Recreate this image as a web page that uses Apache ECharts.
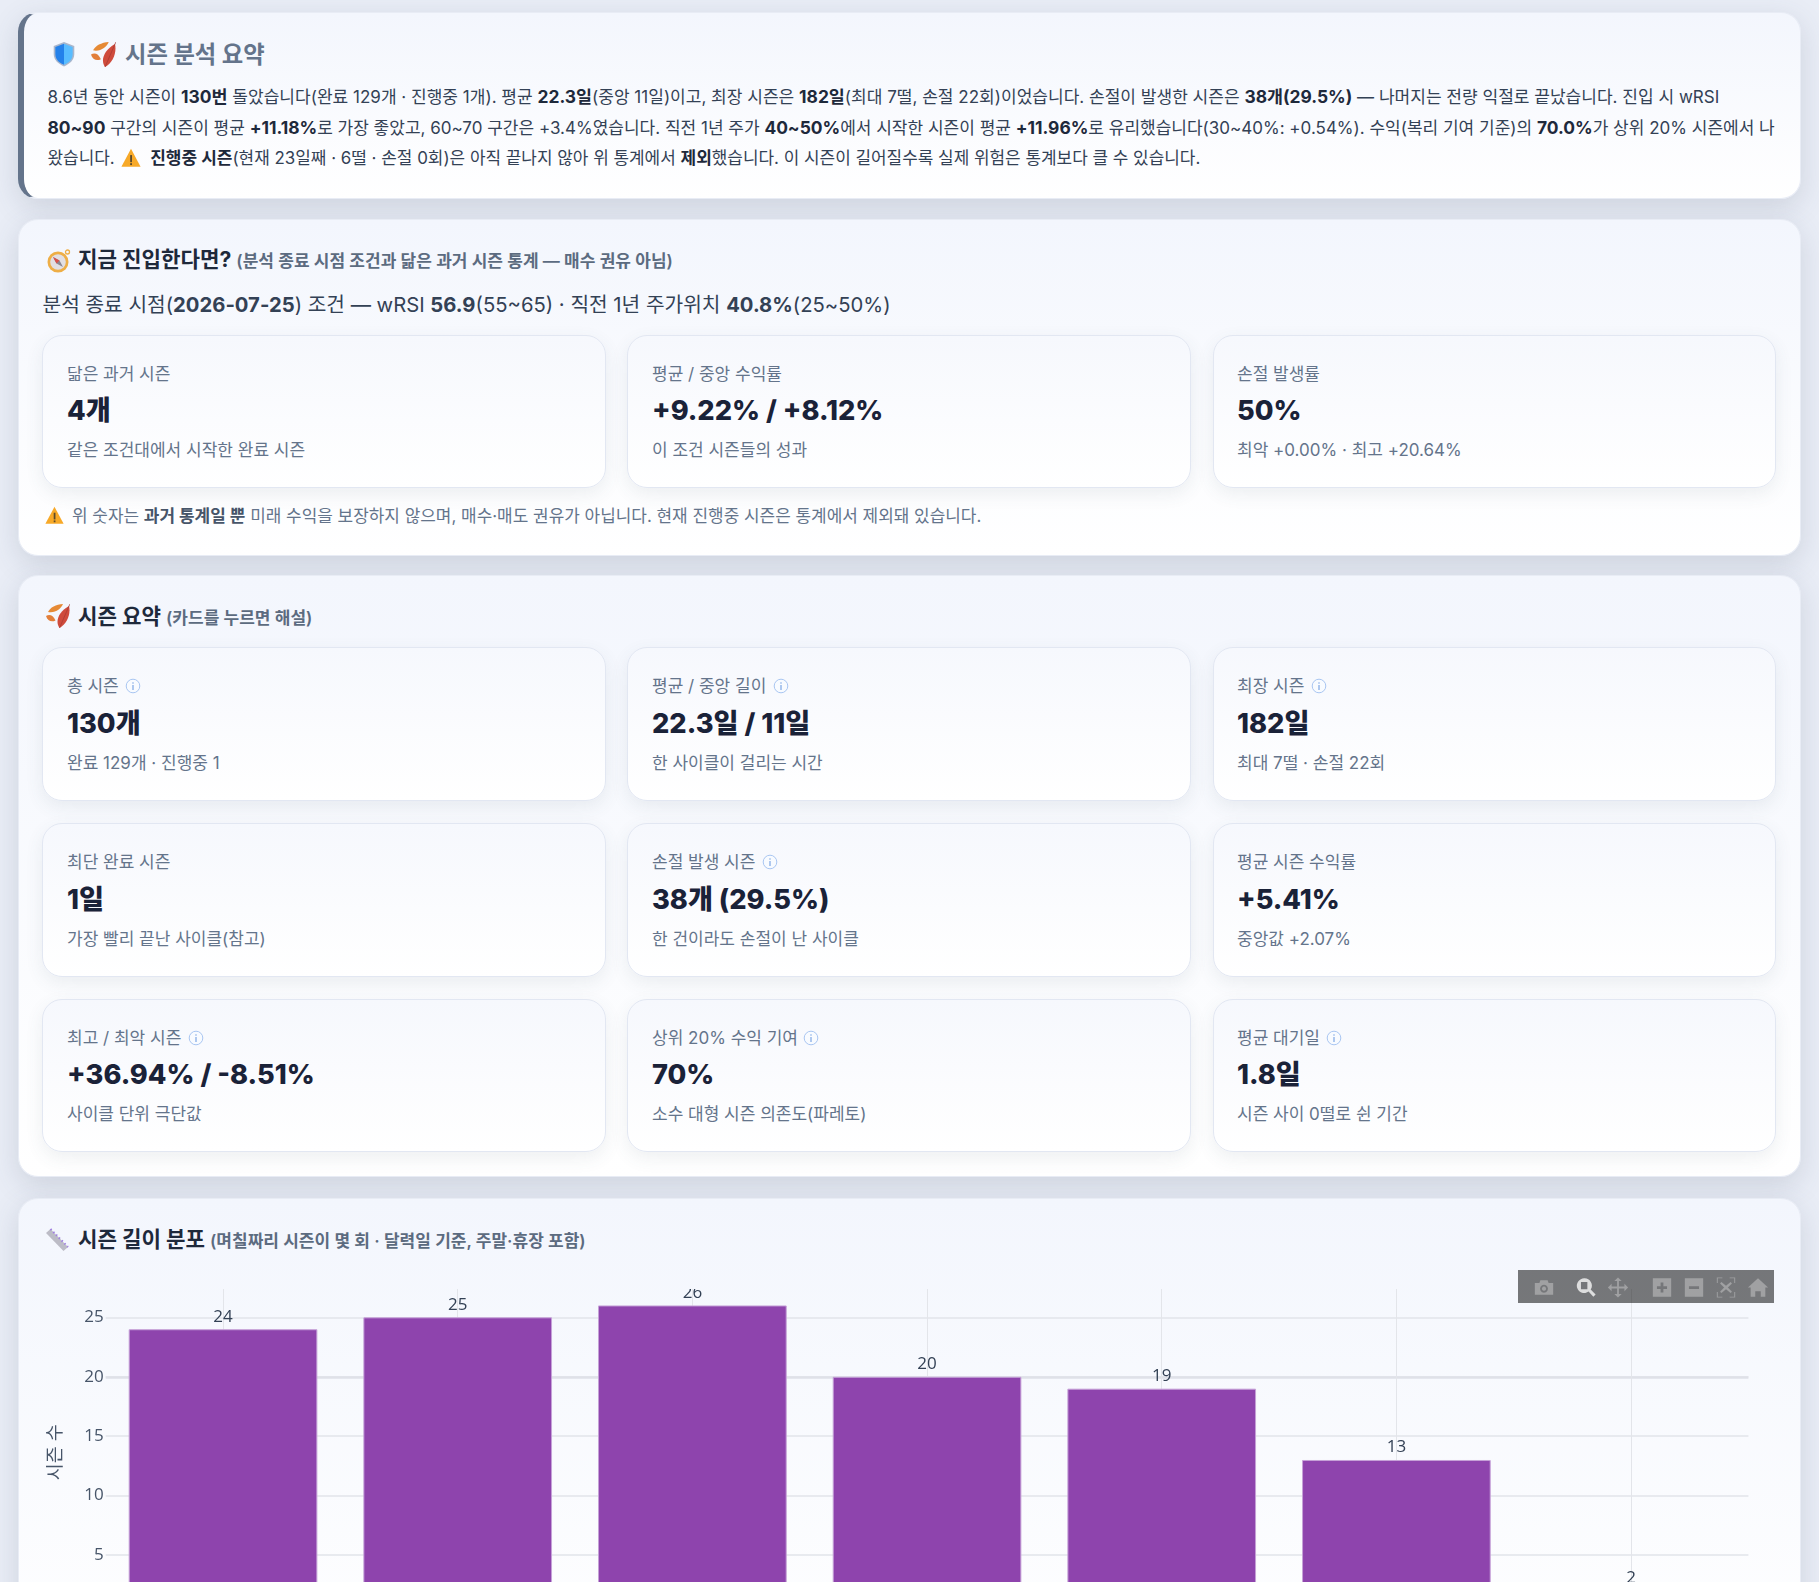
<!DOCTYPE html>
<html lang="ko"><head><meta charset="utf-8">
<script src="https://cdn.jsdelivr.net/npm/echarts@6/dist/echarts.min.js"></script>
<style>
html,body{margin:0;padding:0;width:1819px;height:1582px;overflow:hidden;background:#e9edf6;font-family:Inter,"Noto Sans CJK KR",sans-serif;color:#1e293b}
.panel{position:absolute;left:17.5px;width:1783px;border-radius:20px;background:linear-gradient(180deg,#f3f6fd 0%,#ffffff 100%);box-shadow:0 8px 28px rgba(71,85,105,.17);box-sizing:border-box;border:1px solid #e8ecf5}
.t{position:absolute;white-space:nowrap;transform:translateY(-50%);line-height:1}
.card{position:absolute;width:563.5px;border-radius:20px;border:1px solid #e2e7f2;background:linear-gradient(180deg,#f6f8fd,#ffffff);box-shadow:0 6px 18px rgba(71,85,105,.09);box-sizing:border-box}
.lab{font-size:17px;color:#64748b}
.val{font-size:27.2px;font-weight:800;color:#1a2238}
.sub{font-size:17px;color:#64748b}
.para{font-size:16.95px;color:#334155}
.para b{color:#1e293b;font-weight:700;font-size:17.4px}
.h{font-size:21.2px;font-weight:700;color:#1e293b}
.h small{font-size:17px;font-weight:600;color:#5c6b80}
svg{position:absolute}
#chart{position:absolute;left:18px;top:1289px;width:1782px;height:293px}
#bar{position:absolute;left:1518px;top:1270px;width:256px;height:33px;background:rgba(0,0,0,.52)}
</style></head><body>
<div id="root"></div>
<div id="chart"></div>
<div id="bar"></div>
<script>
const lengthBuckets = ['1일','2~3일','4~7일','8~14일','15~30일','31~60일','61일+'];
const seasonCounts = [24, 25, 26, 20, 19, 13, 2];
const yTicks = [5, 10, 15, 20, 25];
const yMax = 27.3;

const ICON = {
 shield:(x,y,s)=>`<svg style="left:${x}px;top:${y}px" width="${s}" height="${s}" viewBox="0 0 24 24"><path d="M12 1 21.500 4.500V12c0 6-4.500 9-9.500 11.500C7 21 2.500 18 2.500 12V4.500Z" fill="#a9b6cc"/><path d="M12 2.500 20 5.500V12c0 5-3.500 8-8 10Z" fill="#58bcff"/><path d="M12 2.500 4 5.500V12c0 5 3.500 8 8 10Z" fill="#2481ea"/></svg>`,
 leaf:(x,y,s)=>`<svg style="left:${x}px;top:${y}px" width="${s}" height="${s}" viewBox="0 0 24 24"><path d="M2 8C4 3.500 10 .5 17 0 15 5 9 9.500 2 8Z" fill="#e68a35"/><path d="M0 12c3-2 7-1.500 9.500 4.500-4 2-8 .5-9.500-4.500Z" fill="#e27f3a"/><path d="M23 2C25 10 21 20 13.500 24 9 18 12 8 23 2Z" fill="#cf4b3c"/><path d="M13.500 24 23 2 24 0" stroke="#a63a33" stroke-width=".7" fill="none"/></svg>`,
 compass:(x,y,s)=>`<svg style="left:${x}px;top:${y}px" width="${s}" height="${s}" viewBox="0 0 24 24"><circle cx="11" cy="13" r="10.500" fill="#eeae46"/><circle cx="11" cy="13" r="7.800" fill="#e2dfe2"/><path d="M6 8 12.500 11.500 16 18 9.500 14.500Z" fill="#8b8791"/><path d="M6 8 12.500 11.500 9.500 14.500Z" fill="#d8504a"/><circle cx="20.500" cy="3" r="2" fill="none" stroke="#eeae46" stroke-width="1.300"/></svg>`,
 warn:(x,y,s)=>`<svg style="left:${x}px;top:${y}px" width="${s}" height="${s}" viewBox="0 0 24 24"><path d="M12 1 23.500 22.500H.5Z" fill="#f7a928"/><rect x="11" y="8.500" width="2.200" height="8.500" fill="#5b4a2c"/><rect x="11" y="18.200" width="2.200" height="2.300" fill="#5b4a2c"/></svg>`,
 ruler:(x,y,s)=>`<svg style="left:${x}px;top:${y}px" width="${s}" height="${s}" viewBox="0 0 24 24"><path d="M1 5 5.500 1 23 19 18.500 23Z" fill="#bcbcc6"/><path d="M5.500 1 23 19" stroke="#a07fe0" stroke-width="2" stroke-dasharray="1.500 2.500" fill="none"/></svg>`,
 info:(x,y)=>`<svg style="left:${x}px;top:${y}px" width="16" height="16" viewBox="0 0 16 16"><circle cx="8" cy="8" r="6.800" fill="#f8fbff" stroke="#a9c6f2" stroke-width="1"/><rect x="7.400" y="7" width="1.200" height="5" fill="#7ea6e4"/><rect x="7.400" y="4.300" width="1.200" height="1.400" fill="#7ea6e4"/></svg>`
};
const t=(x,y,cls,html,style='')=>`<div class="t ${cls}" style="left:${x}px;top:${y}px;${style}">${html}</div>`;
const panel=(y,h,extra='')=>`<div class="panel" style="top:${y}px;height:${h}px;${extra}"></div>`;
const xs=[42,627,1212.500];
function card(col,top,h,label,val,sub,infoX,d=0){
 const x=xs[col],tx=Math.round(x+24.500);
 return `<div class="card" style="left:${x}px;top:${top}px;height:${h}px"></div>`+
  t(tx,top+39,'lab',label)+t(tx,top+75.500+d,'val',val)+t(tx,top+114.500+d,'sub',sub)+
  (infoX?ICON.info(x+infoX,top+31):'');
}
let h='';
h+=panel(12,187,'border-left:6px solid #64748b');
h+=ICON.shield(51,41,26)+ICON.leaf(91,42,25);
h+=t(125,54.500,'h','시즌 분석 요약','color:#64748b;font-size:23.3px');
h+=t(47.500,96.500,'para','8.6년 동안 시즌이 <b>130번</b> 돌았습니다(완료 129개 · 진행중 1개). 평균 <b>22.3일</b>(중앙 11일)이고, 최장 시즌은 <b>182일</b>(최대 7떨, 손절 22회)이었습니다. 손절이 발생한 시즌은 <b>38개(29.5%)</b> — 나머지는 전량 익절로 끝났습니다. 진입 시 wRSI','font-size:17.04px');
h+=t(47.500,127.500,'para','<b>80~90</b> 구간의 시즌이 평균 <b>+11.18%</b>로 가장 좋았고, 60~70 구간은 +3.4%였습니다. 직전 1년 주가 <b>40~50%</b>에서 시작한 시즌이 평균 <b>+11.96%</b>로 유리했습니다(30~40%: +0.54%). 수익(복리 기여 기준)의 <b>70.0%</b>가 상위 20% 시즌에서 나','font-size:17px');
h+=t(47.500,157.500,'para','왔습니다. <span style="display:inline-block;width:26px"></span> <b style="font-size:17px">진행중 시즌</b>(현재 23일째 · 6떨 · 손절 0회)은 아직 끝나지 않아 위 통계에서 <b style="font-size:17px">제외</b>했습니다. 이 시즌이 길어질수록 실제 위험은 통계보다 클 수 있습니다.','font-size:16.93px');
h+=ICON.warn(121,148,20);

h+=panel(219,337);
h+=ICON.compass(46.5,249,24);
h+=t(78,259.500,'h','지금 진입한다면? <small>(분석 종료 시점 조건과 닮은 과거 시즌 통계 — 매수 권유 아님)</small>');
h+=t(42.500,304.500,'','분석 종료 시점(<b>2026-07-25</b>) 조건 — wRSI <b>56.9</b>(55~65) · 직전 1년 주가위치 <b>40.8%</b>(25~50%)','font-size:20.25px;color:#334155');
h+=card(0,335,153,'닮은 과거 시즌','4개','같은 조건대에서 시작한 완료 시즌');
h+=card(1,335,153,'평균 / 중앙 수익률','+9.22% / +8.12%','이 조건 시즌들의 성과');
h+=card(2,335,153,'손절 발생률','50%','최악 +0.00% · 최고 +20.64%');
h+=ICON.warn(45,506,19);
h+=t(72,516,'','위 숫자는 <b style="color:#475569">과거 통계일 뿐</b> 미래 수익을 보장하지 않으며, 매수·매도 권유가 아닙니다. 현재 진행중 시즌은 통계에서 제외돼 있습니다.','font-size:16.95px;color:#64748b');

h+=panel(575,602);
h+=ICON.leaf(46,604,24);
h+=t(78,617,'h','시즌 요약 <small>(카드를 누르면 해설)</small>');
h+=card(0,647,154,'총 시즌','130개','완료 129개 · 진행중 1',83,1);
h+=card(1,647,154,'평균 / 중앙 길이','22.3일 / 11일','한 사이클이 걸리는 시간',145.5,1);
h+=card(2,647,154,'최장 시즌','182일','최대 7떨 · 손절 22회',98.5,1);
h+=card(0,823,154,'최단 완료 시즌','1일','가장 빨리 끝난 사이클(참고)',0,1);
h+=card(1,823,154,'손절 발생 시즌','38개 (29.5%)','한 건이라도 손절이 난 사이클',134.5,1);
h+=card(2,823,154,'평균 시즌 수익률','+5.41%','중앙값 +2.07%',0,1);
h+=card(0,999,153,'최고 / 최악 시즌','+36.94% / -8.51%','사이클 단위 극단값',145.5,.5);
h+=card(1,999,153,'상위 20% 수익 기여','70%','소수 대형 시즌 의존도(파레토)',176,.5);
h+=card(2,999,153,'평균 대기일','1.8일','시즌 사이 0떨로 쉰 기간',113.5,.5);

h+=panel(1198,500);
h+=ICON.ruler(45,1228,24);
h+=t(78,1240,'h','시즌 길이 분포 <small>(며칠짜리 시즌이 몇 회 · 달력일 기준, 주말·휴장 포함)</small>');
document.getElementById('root').innerHTML=h;

/* modebar */
const mb=[
 [26,'M2 7h5l1-3h8l1 3h5v13H2Z M12 9a4.300 4.300 0 1 0 .01 0Z M12 11a2.300 2.300 0 1 1-.01 0Z',.3],
 [68,'M10 2a8 8 0 1 0 4.800 14.400L20 22l2.500-2.500-5.400-5.200A8 8 0 0 0 10 2Z M6.500 6h7v8h-7Z',.75],
 [100,'M12 1l4 4h-3v6h6V8l4 4-4 4v-3h-6v6h3l-4 4-4-4h3v-6H5v3l-4-4 4-4v3h6V5H8Z',.3],
 [144,'M2 2h20v20H2Z M10.500 6.500v4h-4v3h4v4h3v-4h4v-3h-4v-4Z',.3],
 [176,'M2 2h20v20H2Z M6.500 10.500v3h11v-3Z',.3],
 [208,'M2 1H8V2H3V7H2Z M16 1h6V7h-1V2H16Z M2 17h1v5h5v1H2Z M21 17h1v6H16v-1h5Z M7 6l5 4 5-4 1.500 1.500-4.500 4.500 4.500 4.500L17 18l-5-4-5 4-1.500-1.500L10 12 5.500 7.500Z',.3],
 [240,'M12 2 23 12h-3v10h-5v-6H9v6H4V12H1Z',.3]
];
document.getElementById('bar').innerHTML=mb.map(m=>`<svg style="left:${m[0]-11}px;top:6px" width="22" height="23" viewBox="0 0 24 24"><path d="${m[1]}" fill="#fff" fill-opacity="${m[2]}" fill-rule="evenodd"/></svg>`).join('');

const chart=echarts.init(document.getElementById('chart'),null,{renderer:'canvas'});
chart.setOption({
 animation:false,
 grid:{left:87.7,top:1,width:1642.7,height:324.500,containLabel:false,outerBoundsMode:'none'},
 xAxis:{type:'category',data:lengthBuckets,boundaryGap:true,
  axisLine:{show:false},
  axisTick:{show:true,alignWithLabel:true,inside:true,length:326,lineStyle:{color:'#e3e5ea',width:1}},
  axisLabel:{show:true,color:'#475569',fontSize:16},splitLine:{show:false}},
 yAxis:[{type:'value',min:0,max:yMax,interval:5,
  name:'시즌 수',nameLocation:'middle',nameRotate:90,nameGap:41,
  nameTextStyle:{color:'#475569',fontSize:18.5,fontFamily:'Open Sans, Noto Sans CJK KR'},
  axisLine:{show:false},axisTick:{show:false},
  axisLabel:{color:'#475569',fontSize:17,margin:2,padding:[2,0,0,0],fontFamily:'Open Sans, Noto Sans CJK KR',
   formatter:v=>yTicks.includes(v)?String(v):''},
  splitLine:{show:true,showMaxLine:false,lineStyle:{color:'#e2e4ea',width:1.500}}},
  {type:'value',min:0,max:yMax,interval:20,position:'left',axisLine:{show:false},axisTick:{show:false},axisLabel:{show:false},
  splitLine:{show:true,showMaxLine:false,lineStyle:{color:'#dfe1e8',width:2.500}}}],
 series:[{type:'bar',yAxisIndex:0,data:seasonCounts,barCategoryGap:'19.6%',
  itemStyle:{color:'#8e44ad',borderColor:'#c6a2d8',borderWidth:1},
  label:{show:true,position:'top',distance:4,color:'#334155',fontSize:17,fontFamily:'Open Sans, Noto Sans CJK KR'}}]
});
</script>
</body></html>
